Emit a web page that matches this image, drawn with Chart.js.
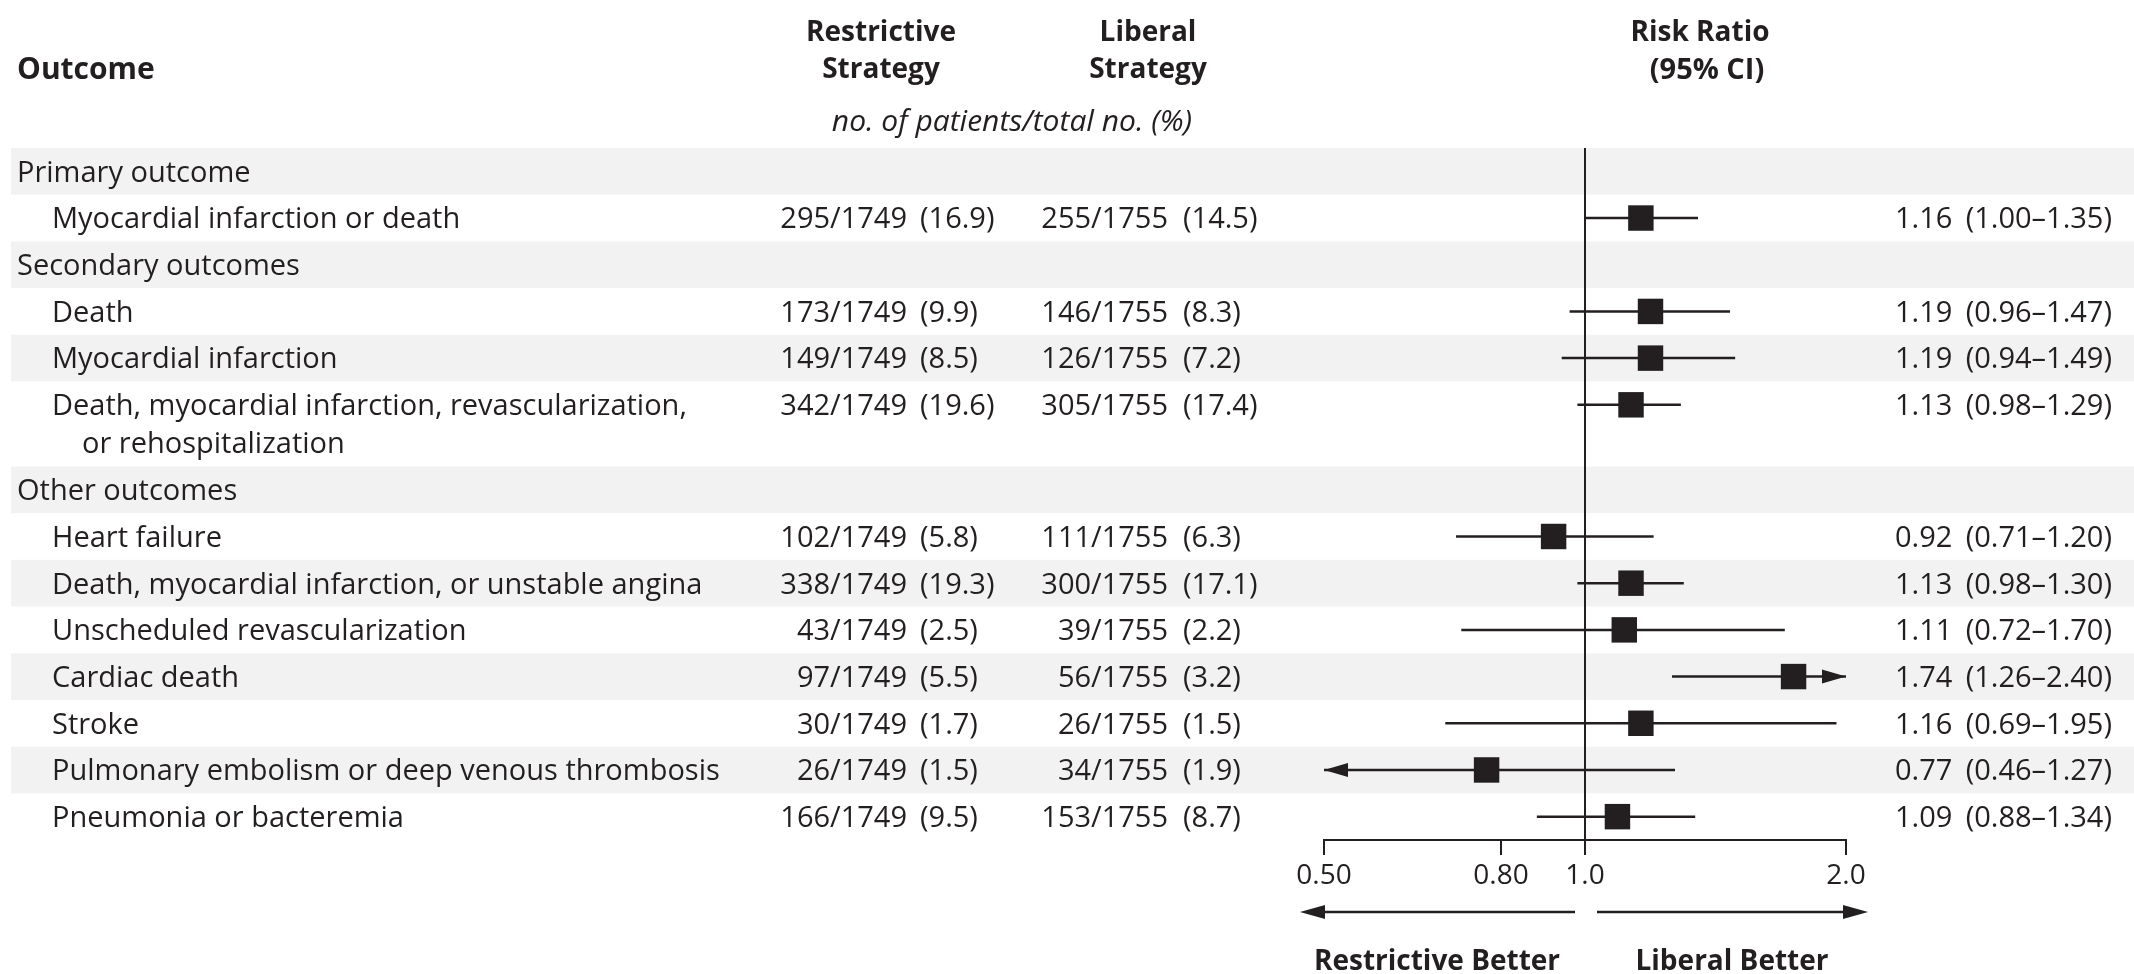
<!DOCTYPE html>
<html>
<head>
<meta charset="utf-8">
<script src="https://cdn.jsdelivr.net/npm/chart.js@4/dist/chart.umd.min.js"></script>
<style>
html,body{margin:0;padding:0;background:#ffffff;}
canvas{display:block;}
</style>
</head>
<body>
<canvas id="forest" width="2134" height="974"></canvas>
<script>
// ---------------- data ----------------
const sectionNames = ["Primary outcome", "Secondary outcomes", "Other outcomes"];
const outcomeNames = [
  "Myocardial infarction or death",
  "Death",
  "Myocardial infarction",
  "Death, myocardial infarction, revascularization,\nor rehospitalization",
  "Heart failure",
  "Death, myocardial infarction, or unstable angina",
  "Unscheduled revascularization",
  "Cardiac death",
  "Stroke",
  "Pulmonary embolism or deep venous thrombosis",
  "Pneumonia or bacteremia"
];
const outcomeSection = [0, 1, 1, 1, 2, 2, 2, 2, 2, 2, 2];
const restrictiveEvents = [295, 173, 149, 342, 102, 338, 43, 97, 30, 26, 166];
const restrictiveTotal = 1749;
const restrictivePct = [16.9, 9.9, 8.5, 19.6, 5.8, 19.3, 2.5, 5.5, 1.7, 1.5, 9.5];
const liberalEvents = [255, 146, 126, 305, 111, 300, 39, 56, 26, 34, 153];
const liberalTotal = 1755;
const liberalPct = [14.5, 8.3, 7.2, 17.4, 6.3, 17.1, 2.2, 3.2, 1.5, 1.9, 8.7];
const riskRatio = [1.16, 1.19, 1.19, 1.13, 0.92, 1.13, 1.11, 1.74, 1.16, 0.77, 1.09];
const ciLower   = [1.00, 0.96, 0.94, 0.98, 0.71, 0.98, 0.72, 1.26, 0.69, 0.46, 0.88];
const ciUpper   = [1.35, 1.47, 1.49, 1.29, 1.20, 1.30, 1.70, 2.40, 1.95, 1.27, 1.34];
const axisTicks = [0.5, 0.8, 1.0, 2.0];
const axisTickLabels = ["0.50", "0.80", "1.0", "2.0"];
const axisMin = 0.5, axisMax = 2.0;

// ---------------- layout of rows (row slots) ----------------
const INK = "#231f20";
const BAND = "#f2f2f2";
const FONT = "'Open Sans', sans-serif";
const SIZE = 29;
const LINE_STEP = 0.82;

const rows = [];
let slot = 0, lastSec = -1;
outcomeNames.forEach((name, i) => {
  if (outcomeSection[i] !== lastSec) {
    lastSec = outcomeSection[i];
    rows.push({kind: "section", lines: [sectionNames[lastSec]], pos: slot});
    slot += 1;
  }
  const lines = name.split("\n");
  rows.push({kind: "outcome", idx: i, lines, pos: slot});
  slot += 1 + (lines.length - 1) * LINE_STEP;
});
const yMin = -0.5, yMax = slot - 0.5;
const outcomePos = rows.filter(r => r.kind === "outcome").map(r => r.pos);

// ---------------- helpers ----------------
function text(ctx, s, x, y, align, opts) {
  opts = opts || {};
  const size = opts.size || SIZE;
  ctx.save();
  ctx.font = (opts.style || "normal") + " " + (opts.weight || "normal") + " " + size + "px " + FONT;
  ctx.fillStyle = INK;
  ctx.textAlign = align;
  ctx.textBaseline = "alphabetic";
  ctx.fillText(s, x, y + 0.357 * size);
  ctx.restore();
}
function triangle(ctx, tipX, y, dir, len, half) {
  ctx.beginPath();
  ctx.moveTo(tipX, y);
  ctx.lineTo(tipX - dir * len, y - half);
  ctx.lineTo(tipX - dir * len, y + half);
  ctx.closePath();
  ctx.fillStyle = INK;
  ctx.fill();
}

// ---------------- plugin: bands, table text, arrows ----------------
const tablePlugin = {
  id: "tablePlugin",
  beforeDatasetsDraw(chart) {
    const ctx = chart.ctx, ys = chart.scales.y;
    // bands
    rows.forEach((r, k) => {
      if (k % 2 !== 0) return;
      const top = ys.getPixelForValue(r.pos - 0.5);
      const bot = ys.getPixelForValue(r.pos + 0.5 + (r.lines.length - 1) * LINE_STEP);
      ctx.fillStyle = BAND;
      ctx.fillRect(11, top, chart.width - 11, bot - top);
    });
    // header
    text(ctx, "Outcome", 17, 68, "left", {weight: "bold", size: 30});
    text(ctx, "Restrictive", 881, 31, "center", {weight: "bold", size: 28});
    text(ctx, "Strategy", 881, 68, "center", {weight: "bold", size: 28});
    text(ctx, "Liberal", 1148, 31, "center", {weight: "bold", size: 28});
    text(ctx, "Strategy", 1148, 68, "center", {weight: "bold", size: 28});
    text(ctx, "no. of patients/total no. (%)", 1012, 120, "center", {style: "italic", size: 30});
    text(ctx, "Risk Ratio", 1700, 31, "center", {weight: "bold", size: 28});
    text(ctx, "(95% CI)", 1707, 69, "center", {weight: "bold", size: 29});
    // rows
    rows.forEach(r => {
      const y = ys.getPixelForValue(r.pos);
      const lineH = ys.getPixelForValue(r.pos + LINE_STEP) - y;
      if (r.kind === "section") {
        text(ctx, r.lines[0], 17, y, "left");
        return;
      }
      r.lines.forEach((ln, j) => text(ctx, ln, j === 0 ? 52 : 82, y + j * lineH, "left"));
      const i = r.idx;
      text(ctx, restrictiveEvents[i] + "/" + restrictiveTotal, 907, y, "right");
      text(ctx, "(" + restrictivePct[i].toFixed(1) + ")", 920, y, "left");
      text(ctx, liberalEvents[i] + "/" + liberalTotal, 1168, y, "right");
      text(ctx, "(" + liberalPct[i].toFixed(1) + ")", 1183, y, "left");
      text(ctx, riskRatio[i].toFixed(2), 1895, y, "left");
      text(ctx, "(" + ciLower[i].toFixed(2) + "\u2013" + ciUpper[i].toFixed(2) + ")", 2112, y, "right");
    });
  },
  afterDatasetsDraw(chart) {
    const ctx = chart.ctx, xs = chart.scales.x, ys = chart.scales.y;
    // arrowheads for intervals running past the axis
    outcomePos.forEach((p, i) => {
      const y = ys.getPixelForValue(p);
      if (ciUpper[i] > axisMax) triangle(ctx, xs.getPixelForValue(axisMax), y, 1, 24, 7);
      if (ciLower[i] < axisMin) triangle(ctx, xs.getPixelForValue(axisMin), y, -1, 24, 7);
    });
    // direction arrows below the axis
    const x1 = xs.getPixelForValue(1);
    const xa = xs.getPixelForValue(axisMin), xb = xs.getPixelForValue(axisMax);
    const ay = chart.chartArea.bottom + 72;
    ctx.save();
    ctx.strokeStyle = INK;
    ctx.lineWidth = 2.5;
    ctx.beginPath();
    ctx.moveTo(x1 - 10, ay); ctx.lineTo(xa - 10, ay);
    ctx.moveTo(x1 + 12, ay); ctx.lineTo(xb + 10, ay);
    ctx.stroke();
    ctx.restore();
    triangle(ctx, xa - 24, ay, -1, 25, 7);
    triangle(ctx, xb + 22, ay, 1, 25, 7);
    text(ctx, "Restrictive Better", x1 - 148, chart.chartArea.bottom + 120, "center", {weight: "bold", size: 28});
    text(ctx, "Liberal Better", x1 + 147, chart.chartArea.bottom + 120, "center", {weight: "bold", size: 28});
  }
};

// ---------------- datasets ----------------
const datasets = [];
datasets.push({
  type: "line",
  data: [{x: 1, y: yMin}, {x: 1, y: yMax}],
  borderColor: INK, borderWidth: 2, pointRadius: 0, clip: false
});
ciLower.forEach((lo, i) => {
  datasets.push({
    type: "line",
    data: [{x: lo, y: outcomePos[i]}, {x: ciUpper[i], y: outcomePos[i]}],
    borderColor: INK, borderWidth: 2.5, pointRadius: 0
  });
});
datasets.push({
  type: "scatter",
  data: riskRatio.map((v, i) => ({x: v, y: outcomePos[i]})),
  pointStyle: "rect", pointRadius: 18, pointHoverRadius: 18,
  backgroundColor: INK, borderColor: INK, borderWidth: 0
});

new Chart(document.getElementById("forest"), {
  type: "scatter",
  data: {datasets},
  options: {
    responsive: false,
    animation: false,
    events: [],
    layout: {padding: {left: 1324, right: 288, top: 148, bottom: 0}},
    plugins: {legend: {display: false}, tooltip: {enabled: false}},
    scales: {
      x: {
        type: "logarithmic",
        position: "bottom",
        min: axisMin, max: axisMax,
        afterBuildTicks: s => { s.ticks = axisTicks.map(v => ({value: v})); },
        afterFit: s => { s.height = 134; },
        ticks: {
          autoSkip: false, maxRotation: 0, padding: 4,
          color: INK,
          font: {family: FONT, size: 28},
          callback: v => axisTickLabels[axisTicks.indexOf(v)]
        },
        grid: {drawOnChartArea: false, drawTicks: true, tickLength: 15, color: INK, lineWidth: 2},
        border: {display: true, color: INK, width: 2}
      },
      y: {
        type: "linear", reverse: true, min: yMin, max: yMax, display: false
      }
    }
  },
  plugins: [tablePlugin]
});
</script>
</body>
</html>
